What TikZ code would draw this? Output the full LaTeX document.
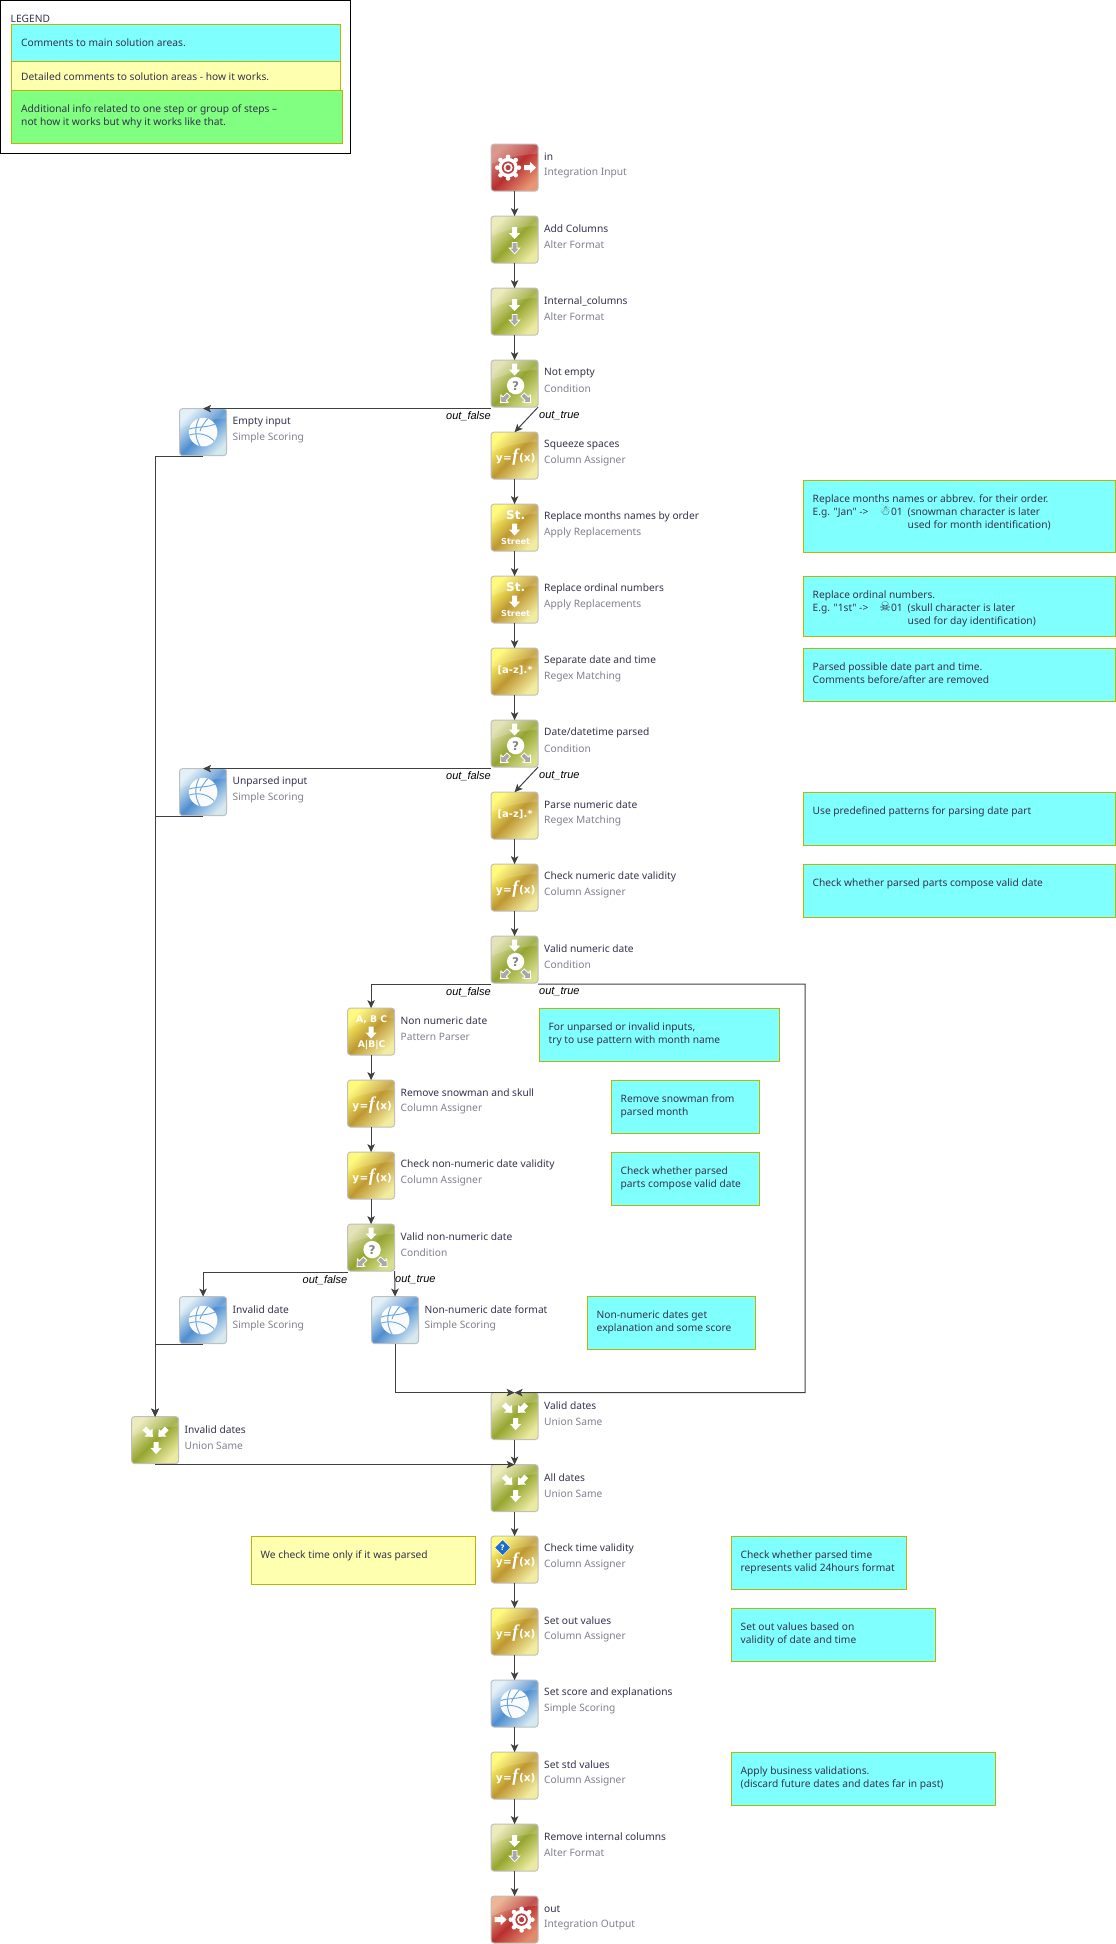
\documentclass[tikz,border=0pt]{standalone}
\usepackage{fontspec}
\setmainfont{Noto Sans}
\newfontfamily\plainq{Noto Sans}
\newfontfamily\funcfont{Liberation Serif}
\newfontfamily\symfont{DejaVu Sans}
\newfontfamily\portfont{Liberation Sans}
\usetikzlibrary{arrows.meta,shapes.geometric}
\newcommand\fs[1]{\fontsize{#1}{#1}\selectfont}
\newcommand\notefont{\fontsize{10.2}{13}\selectfont}
\definecolor{inkc}{HTML}{33334D}
\definecolor{subc}{HTML}{80808F}
\definecolor{linkc}{HTML}{404040}
\definecolor{notec}{HTML}{B8B800}
\definecolor{cyanc}{HTML}{80FFFF}
\definecolor{yellc}{HTML}{FFFFB0}
\definecolor{greenc}{HTML}{80FF80}
\definecolor{stripec}{HTML}{6AA5DC}
\definecolor{glyphgray}{HTML}{A8A8A8}
\definecolor{redmid}{RGB}{190,60,60}
\definecolor{infoc}{RGB}{28,110,200}
\definecolor{ca}{RGB}{222,222,170}\definecolor{cb}{RGB}{215,222,140}\definecolor{cm}{RGB}{148,164,48}
\definecolor{ga}{RGB}{255,248,100}\definecolor{gb}{RGB}{242,236,160}\definecolor{gm}{RGB}{190,152,50}
\definecolor{ba}{RGB}{222,238,246}\definecolor{bb}{RGB}{212,232,240}\definecolor{bm}{RGB}{78,142,208}
\definecolor{ra}{RGB}{214,132,120}\definecolor{rb}{RGB}{232,150,116}\definecolor{rm}{RGB}{184,48,48}
\definecolor{oa}{RGB}{232,168,130}\definecolor{ob}{RGB}{226,140,110}
\definecolor{aa}{RGB}{232,232,176}\definecolor{ab}{RGB}{236,234,160}\definecolor{am}{RGB}{150,166,48}
\tikzset{
  x=1pt,y=-1pt,
  stepbox/.style={draw=black!25,line width=1pt,rounded corners=3pt,minimum size=47pt,inner sep=0pt,outer sep=0pt},
  k-cond/.style={top color=ca,bottom color=cb,middle color=cm,shading angle=45},
  k-gold/.style={top color=ga,bottom color=gb,middle color=gm,shading angle=45},
  k-blue/.style={top color=ba,bottom color=bb,middle color=bm,shading angle=45},
  k-red/.style={top color=ra,bottom color=rb,middle color=rm,shading angle=45},
  k-redout/.style={top color=oa,bottom color=ob,middle color=rm,shading angle=45},
  k-alt/.style={top color=aa,bottom color=ab,middle color=am,shading angle=45},
  titletext/.style={anchor=west,inner sep=0pt,text=inkc,font=\fs{10.2}},
  subtext/.style={anchor=west,inner sep=0pt,text=subc,font=\fs{10.2}},
  link/.style={draw=linkc,line width=1pt,-{Stealth[length=8pt,width=7.5pt,inset=2pt]}},
  portlabel/.style={inner sep=0pt,text=black,font=\portfont\itshape\fs{11}},
  notebox/.style={draw=notec,line width=1pt,anchor=north west,inner sep=0pt,outer sep=0pt},
  notetext/.style={anchor=north west,inner sep=0pt,text=inkc,align=left,font=\notefont},
  glyphtext/.style={inner sep=0pt,text=white},
  below1/.style={yshift=-0.9pt},
}
\newcommand\garrow[4][fill=white]{\path[#1,shift={(#2,#3)},rotate=#4]
  (-2.5,-6) -- (2.5,-6) -- (2.5,0) -- (5.5,0) -- (0,6) -- (-5.5,0) -- (-2.5,0) -- cycle;}
\newcommand\grayarrow[3]{\path[fill=glyphgray,draw=white,line width=.8pt,shift={(#1,#2)},rotate=#3,scale=.95]
  (-2.5,-6) -- (2.5,-6) -- (2.5,0) -- (5.5,0) -- (0,6) -- (-5.5,0) -- (-2.5,0) -- cycle;}
\newcommand\glyphalter{\garrow{0}{-6.5}{0}\grayarrow{0}{8.5}{0}}
\newcommand\glyphcond{\garrow{0}{-14}{0}\fill[white] (1,2) circle (8.7);
  \node[inner sep=0pt,text=glyphgray!80!black,font=\symfont\bfseries\fs{12}] at (1,2) {?};
  \grayarrow{-10}{15}{-45}\grayarrow{12}{15}{45}}
\newcommand\glyphunion{\garrow{-6.5}{-7.5}{45}\garrow{7.5}{-7.5}{-45}\garrow{1}{8}{0}}
\newcommand\fxtext[1]{\node[glyphtext,font=\symfont\bfseries\fs{10.5}] at (1,#1) {y\kern.6pt=\kern.4pt{\funcfont\bfseries\itshape\fs{18}f}\kern.6pt(x)};}
\newcommand\glyphassign{\fxtext{1}}
\newcommand\glyphassigninfo{\fxtext{1.5}
  \node[diamond,aspect=1,fill=infoc,draw=white,line width=.5pt,minimum size=16pt,inner sep=0pt,text=white,font=\symfont\bfseries\fs{7.5}] at (-12,-12) {?};}
\newcommand\glyphrepl{\node[glyphtext,font=\symfont\bfseries\fs{12}] at (1,-12) {St.};
  \garrow{0}{2}{0}\node[glyphtext,font=\symfont\bfseries\fs{8.2}] at (1,13.5) {Street};}
\newcommand\glyphregex{\node[glyphtext,font=\symfont\bfseries\fs{10}] at (0.5,-1) {[a-z].*};}
\newcommand\glyphpattern{\node[glyphtext,font=\symfont\bfseries\fs{9.2}] at (0.5,-11.5) {A, B C};
  \garrow{0}{1}{0}\node[glyphtext,font=\symfont\bfseries\fs{9.2}] at (0.5,13.5) {A|B|C};}
\newcommand\glyphscore{\fill[white,opacity=.96] (0,0) circle (14.3);
  \begin{scope}\clip (0,0) circle (14.3);
  \draw[stripec,line width=.9pt] (-14,-3) .. controls (-6,-6) and (5,-4) .. (14,-9);
  \draw[stripec,line width=.9pt] (-14,3) .. controls (-5,0) and (6,2) .. (12,10);
  \draw[stripec,line width=.9pt] (-4,-14) .. controls (-9,-4) and (-8,6) .. (-3,14);
  \draw[stripec,line width=.9pt] (5,-14) .. controls (0,-8) and (-3,-3) .. (-3,-1);
  \end{scope}}
\newcommand\gearat[1]{\begin{scope}[shift={(#1,0)}]
  \fill[white] (0,0) circle (9.8);
  \foreach \a in {0,45,...,315}{\fill[white] (\a:10.8) circle (2.3);}
  \fill[redmid] (0,0) circle (6.2);
  \fill[white] (0,0) circle (4.6);
  \fill[redmid] (0,0) circle (2.6);
  \end{scope}}
\newcommand\glyphinput{\gearat{-6.5}\garrow{15.5}{0}{90}}
\newcommand\glyphoutput{\gearat{7}\garrow{-14}{0}{90}}
\newcommand\flowstep[7]{%
  \node[stepbox,#4] (#1) at (#2+23.6,#3+23.6) {};
  \begin{scope}[shift={(#1.center)}]
    \begin{scope}
      \clip[rounded corners=3pt] (-23,-23) rectangle (23,23);
      \fill[white,opacity=.16] (-24,-24) -- (24,-24) -- (24,-14) .. controls (8,-13) and (-10,-10) .. (-24,-3) -- cycle;
    \end{scope}
    \csname glyph#5\endcsname
  \end{scope}
  \node[titletext] (#1-t) at (#2+53,#3+13) {#6};
  \node[subtext] (#1-s) at (#2+53,#3+29) {#7};
}
\newcommand\notecard[6]{%
  \node[notebox,fill=#2,minimum width=#5-#3,minimum height=#6] (#1) at (#3,#4) {};
}
\newcommand\notewords[4]{\node[notetext] (#1) at (#2-1,#3) {\rule{0pt}{10pt}#4};}
\newcommand\sym[2]{\smash{\symfont\fs{#1}#2}}
\begin{document}
\begin{tikzpicture}
\useasboundingbox (0,0) rectangle (1116,1944);
\node[draw=black,line width=1pt,anchor=north west,minimum width=350,minimum height=152.5,inner sep=0pt,outer sep=0pt] (legend) at (0.5,0.5) {};
\node[anchor=west,inner sep=0pt,text=inkc,font=\fs{10.2}] (legendt) at (10.5,19) {LEGEND};
\notecard{lc}{cyanc}{11}{24.5}{340.5}{37}
\notecard{ly}{yellc}{11}{61.5}{340.5}{29}
\notecard{lg}{greenc}{11}{90.5}{342.5}{53}
\notewords{lct}{22}{36}{Comments to main solution areas.}
\notewords{lyt}{22}{70}{Detailed comments to solution areas - how it works.}
\notewords{lgt}{22}{102}{Additional info related to one step or group of steps –\\not how it works but why it works like that.}
\flowstep{in}{491}{144}{k-red}{input}{in}{Integration Input}
\flowstep{addc}{491}{216}{k-alt}{alter}{Add Columns}{Alter Format}
\flowstep{intc}{491}{288}{k-alt}{alter}{Internal\_columns}{Alter Format}
\flowstep{notempty}{491}{360}{k-cond}{cond}{Not empty}{Condition}
\flowstep{squeeze}{491}{432}{k-gold}{assign}{Squeeze spaces}{Column Assigner}
\flowstep{months}{491}{504}{k-gold}{repl}{Replace months names by order}{Apply Replacements}
\flowstep{ordinal}{491}{576}{k-gold}{repl}{Replace ordinal numbers}{Apply Replacements}
\flowstep{separate}{491}{648}{k-gold}{regex}{Separate date and time}{Regex Matching}
\flowstep{dtparsed}{491}{720}{k-cond}{cond}{Date/datetime parsed}{Condition}
\flowstep{parsenum}{491}{792}{k-gold}{regex}{Parse numeric date}{Regex Matching}
\flowstep{checknum}{491}{864}{k-gold}{assign}{Check numeric date validity}{Column Assigner}
\flowstep{validnum}{491}{936}{k-cond}{cond}{Valid numeric date}{Condition}
\flowstep{nonnum}{347.5}{1008}{k-gold}{pattern}{Non numeric date}{Pattern Parser}
\flowstep{rmsnow}{347.5}{1080}{k-gold}{assign}{Remove snowman and skull}{Column Assigner}
\flowstep{checknn}{347.5}{1152}{k-gold}{assign}{Check non-numeric date validity}{Column Assigner}
\flowstep{validnn}{347.5}{1224}{k-cond}{cond}{Valid non-numeric date}{Condition}
\flowstep{emptyin}{179.5}{408.5}{k-blue}{score}{Empty input}{Simple Scoring}
\flowstep{unparsed}{179.5}{768.5}{k-blue}{score}{Unparsed input}{Simple Scoring}
\flowstep{invdate}{179.5}{1296.5}{k-blue}{score}{Invalid date}{Simple Scoring}
\flowstep{nnformat}{371.5}{1296.5}{k-blue}{score}{Non-numeric date format}{Simple Scoring}
\flowstep{validd}{491}{1392.5}{k-alt}{union}{Valid dates}{Union Same}
\flowstep{invdates}{131.5}{1416.5}{k-alt}{union}{Invalid dates}{Union Same}
\flowstep{alld}{491}{1464.5}{k-alt}{union}{All dates}{Union Same}
\flowstep{checkt}{491}{1536}{k-gold}{assigninfo}{Check time validity}{Column Assigner}
\flowstep{setout}{491}{1608}{k-gold}{assign}{Set out values}{Column Assigner}
\flowstep{setscore}{491}{1680}{k-blue}{score}{Set score and explanations}{Simple Scoring}
\flowstep{setstd}{491}{1752}{k-gold}{assign}{Set std values}{Column Assigner}
\flowstep{rmint}{491}{1824}{k-alt}{alter}{Remove internal columns}{Alter Format}
\flowstep{outn}{491}{1896}{k-redout}{output}{out}{Integration Output}
\coordinate (loop) at (805,1392.5);
\draw[link] (in) -- (addc);
\draw[link] (addc) -- (intc);
\draw[link] (intc) -- (notempty);
\draw[link] (notempty.south west |- emptyin.north) -- (emptyin.north);
\draw[link] (notempty.south east) -- (squeeze.north);
\draw[link] (squeeze) -- (months);
\draw[link] (months) -- (ordinal);
\draw[link] (ordinal) -- (separate);
\draw[link] (separate) -- (dtparsed);
\draw[link] (dtparsed.south west |- unparsed.north) -- (unparsed.north);
\draw[link] (dtparsed.south east) -- (parsenum.north);
\draw[link] (parsenum) -- (checknum);
\draw[link] (checknum) -- (validnum);
\draw[link] ([below1]validnum.south west) -| (nonnum.north);
\draw[link] ([below1]validnum.south east) -| (loop) -- (validd.north);
\draw[link] (nonnum) -- (rmsnow);
\draw[link] (rmsnow) -- (checknn);
\draw[link] (checknn) -- (validnn);
\draw[link] ([below1]validnn.south west) -| (invdate.north);
\draw[link] (validnn.south east) -- (nnformat.north);
\draw[link] (nnformat.south) |- (validd.north);
\draw[link] ([below1]emptyin.south) -| (invdates.north);
\draw[link] ([below1]unparsed.south) -| (invdates.north);
\draw[link] ([below1]invdate.south) -| (invdates.north);
\draw[link] (invdates.south |- alld.north) -- (alld.north);
\draw[link] (validd) -- (alld);
\draw[link] (alld) -- (checkt);
\draw[link] (checkt) -- (setout);
\draw[link] (setout) -- (setscore);
\draw[link] (setscore) -- (setstd);
\draw[link] (setstd) -- (rmint);
\draw[link] (rmint) -- (outn);
\node[portlabel,anchor=east] (pf1) at (491,416) {out\_false};
\node[portlabel,anchor=west] (pt1) at (539,416) {out\_true};
\node[portlabel,anchor=east] (pf2) at (491,776) {out\_false};
\node[portlabel,anchor=west] (pt2) at (539,776) {out\_true};
\node[portlabel,anchor=east] (pf3) at (491,992) {out\_false};
\node[portlabel,anchor=west] (pt3) at (539,992) {out\_true};
\node[portlabel,anchor=east] (pf4) at (347.5,1280) {out\_false};
\node[portlabel,anchor=west] (pt4) at (395,1280) {out\_true};
\notecard{n1}{cyanc}{803.5}{480.5}{1115.5}{72}
\notewords{n1t}{813.5}{492}{Replace months names or abbrev. for their order.\\\makebox[95pt][l]{E.g. {\plainq"Jan"} ->\hfill\sym{13}{☃}01\hspace{5pt}}(snowman character is later\\\hspace*{95pt}used for month identification)}
\notecard{n2}{cyanc}{803.5}{576.5}{1115.5}{60}
\notewords{n2t}{813.5}{588}{Replace ordinal numbers.\\\makebox[95pt][l]{E.g. {\plainq"1st"} ->\hfill\sym{13}{☠}01\hspace{5pt}}(skull character is later\\\hspace*{95pt}used for day identification)}
\notecard{n3}{cyanc}{803.5}{648.5}{1115.5}{53}
\notewords{n3t}{813.5}{660}{Parsed possible date part and time.\\Comments before/after are removed}
\notecard{n4}{cyanc}{803.5}{792.5}{1115.5}{53}
\notewords{n4t}{813.5}{804}{Use predefined patterns for parsing date part}
\notecard{n5}{cyanc}{803.5}{864.5}{1115.5}{53}
\notewords{n5t}{813.5}{876}{Check whether parsed parts compose valid date}
\notecard{n6}{cyanc}{539.5}{1008.5}{779.5}{53}
\notewords{n6t}{549.5}{1020}{For unparsed or invalid inputs,\\try to use pattern with month name}
\notecard{n7}{cyanc}{611.5}{1080.5}{759.5}{53}
\notewords{n7t}{621.5}{1092}{Remove snowman from\\parsed month}
\notecard{n8}{cyanc}{611.5}{1152.5}{759.5}{53}
\notewords{n8t}{621.5}{1164}{Check whether parsed\\parts compose valid date}
\notecard{n9}{cyanc}{587.5}{1296.5}{755.5}{53}
\notewords{n9t}{597.5}{1308}{Non-numeric dates get\\explanation and some score}
\notecard{n10}{yellc}{251.5}{1536.5}{475.5}{48}
\notewords{n10t}{261.5}{1548}{We check time only if it was parsed}
\notecard{n11}{cyanc}{731.5}{1536.5}{906.5}{53}
\notewords{n11t}{741.5}{1548}{Check whether parsed time\\represents valid 24hours format}
\notecard{n12}{cyanc}{731.5}{1608.5}{935.5}{53}
\notewords{n12t}{741.5}{1620}{Set out values based on\\validity of date and time}
\notecard{n13}{cyanc}{731.5}{1752.5}{995}{53}
\notewords{n13t}{741.5}{1764}{Apply business validations.\\(discard future dates and dates far in past)}
\end{tikzpicture}
\end{document}
